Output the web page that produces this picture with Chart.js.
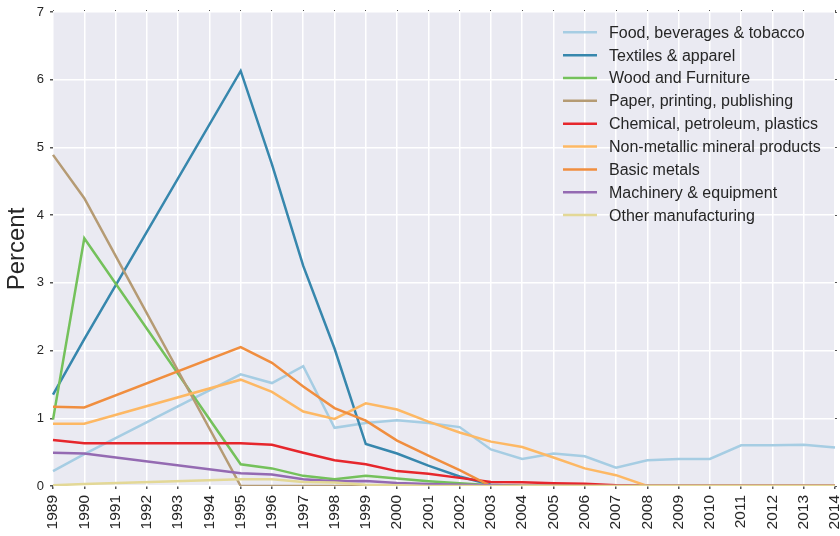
<!DOCTYPE html>
<html>
<head>
<meta charset="utf-8">
<script src="https://cdn.jsdelivr.net/npm/chart.js@4"></script>
<style>
  html, body { margin: 0; padding: 0; background: #ffffff; }
  #wrap { width: 840px; height: 536px; position: relative; }
</style>
</head>
<body>
<div id="wrap"><canvas id="c" width="840" height="536"></canvas></div>
<script>
// ---- Data ----
const years = ["1989","1990","1991","1992","1993","1994","1995","1996","1997","1998","1999","2000","2001",
               "2002","2003","2004","2005","2006","2007","2008","2009","2010","2011","2012","2013","2014"];
const yTicks = [0, 1, 2, 3, 4, 5, 6, 7];

const seriesNames = [
  "Food, beverages & tobacco",
  "Textiles & apparel",
  "Wood and Furniture",
  "Paper, printing, publishing",
  "Chemical, petroleum, plastics",
  "Non-metallic mineral products",
  "Basic metals",
  "Machinery & equipment",
  "Other manufacturing"
];
const seriesColors = ["#a6cde3", "#3787ad", "#74c15b", "#b59b74", "#e6262c", "#fdb864", "#f08e3f", "#946ab2", "#e3d896"];

// 1991-1994 are missing in the source (lines span the gap)
const food      = [0.22, 0.47, null, null, null, null, 1.65, 1.52, 1.77, 0.86, 0.93, 0.97, 0.93, 0.87, 0.54, 0.40, 0.48, 0.44, 0.27, 0.38, 0.40, 0.40, 0.60, 0.60, 0.61, 0.57];
const textiles  = [1.35, 2.17, null, null, null, null, 6.13, 4.75, 3.25, 2.03, 0.62, 0.48, 0.30, 0.14, 0.02, 0, 0, 0, 0, 0, 0, 0, 0, 0, 0, 0];
const wood      = [0.98, 3.66, null, null, null, null, 0.32, 0.26, 0.15, 0.10, 0.15, 0.11, 0.07, 0.04, 0.01, 0, 0, 0, 0, 0, 0, 0, 0, 0, 0, 0];
const paper     = [4.89, 4.25, null, null, null, null, 0, 0, 0, 0, 0, 0, 0, 0, 0, 0, 0, 0, 0, 0, 0, 0, 0, 0, 0, 0];
const chemical  = [0.68, 0.63, null, null, null, null, 0.63, 0.61, 0.49, 0.38, 0.32, 0.22, 0.18, 0.12, 0.06, 0.055, 0.04, 0.035, 0.01, 0, 0, 0, 0, 0, 0, 0];
const nonmetal  = [0.92, 0.92, null, null, null, null, 1.57, 1.39, 1.10, 0.99, 1.22, 1.13, 0.95, 0.79, 0.655, 0.575, 0.42, 0.26, 0.16, 0, 0, 0, 0, 0, 0, 0];
const basic     = [1.17, 1.16, null, null, null, null, 2.05, 1.82, 1.47, 1.15, 0.965, 0.67, 0.45, 0.235, 0, 0, 0, 0, 0, 0, 0, 0, 0, 0, 0, 0];
const machinery = [0.49, 0.48, null, null, null, null, 0.19, 0.17, 0.10, 0.07, 0.075, 0.045, 0.03, 0.02, 0.01, 0, 0, 0, 0, 0, 0, 0, 0, 0, 0, 0];
const other     = [0.01, 0.03, null, null, null, null, 0.10, 0.10, 0.06, 0.05, 0.02, 0.01, 0, 0, 0, 0, 0, 0, 0, 0, 0, 0, 0, 0, 0, 0];

const seriesValues = [food, textiles, wood, paper, chemical, nonmetal, basic, machinery, other];

// ---- Styling ----
const FONT = "'Liberation Sans', Arial, sans-serif";
const TEXT = "#262626";
const TICKMARK = "#555555";

const datasets = seriesNames.map((name, i) => ({
  label: name,
  data: seriesValues[i],
  borderColor: seriesColors[i],
  backgroundColor: seriesColors[i],
  borderWidth: 2.5,
  pointRadius: 0,
  pointHoverRadius: 0,
  tension: 0,
  spanGaps: true,
  fill: false,
  order: seriesNames.length - 1 - i   // later series on top (like matplotlib)
}));

const plotBg = {
  id: 'plotBg',
  beforeDraw(chart) {
    const { ctx, chartArea: a } = chart;
    ctx.save();
    ctx.fillStyle = '#eaeaf2';
    ctx.fillRect(a.left, a.top, a.right - a.left, a.bottom - a.top);
    ctx.restore();
  }
};

const insideLegend = {
  id: 'insideLegend',
  afterDraw(chart) {
    const { ctx, chartArea: a } = chart;
    const x0 = a.right - 272, x1 = a.right - 238, tx = a.right - 226;
    const y0 = a.top + 20.3, dy = 22.85;
    ctx.save();
    ctx.font = "16px " + FONT;
    ctx.textBaseline = 'middle';
    ctx.textAlign = 'left';
    chart.data.datasets.forEach((ds, i) => {
      const y = y0 + i * dy;
      ctx.strokeStyle = ds.borderColor;
      ctx.lineWidth = 2.5;
      ctx.beginPath();
      ctx.moveTo(x0, y);
      ctx.lineTo(x1, y);
      ctx.stroke();
      ctx.fillStyle = TEXT;
      ctx.fillText(ds.label, tx, y + 1);
    });
    ctx.restore();
  }
};

new Chart(document.getElementById('c'), {
  type: 'line',
  data: { labels: years, datasets },
  options: {
    responsive: false,
    animation: false,
    devicePixelRatio: 1,
    layout: { padding: { left: 0, right: 5, top: 12, bottom: 0 } },
    plugins: {
      legend: { display: false },
      tooltip: { enabled: false }
    },
    scales: {
      x: {
        type: 'category',
        offset: false,
        border: { display: false },
        grid: { color: '#ffffff', lineWidth: 1.5, drawTicks: true, tickLength: 3, tickColor: TICKMARK },
        ticks: {
          autoSkip: false, minRotation: 90, maxRotation: 90, padding: 6,
          color: TEXT, font: { family: FONT, size: 15.5 }
        },
        afterFit(s) { s.height = 50; s.paddingLeft = 0; s.paddingRight = 0; }
      },
      xTop: {
        type: 'category', position: 'top', labels: years, offset: false,
        border: { display: false },
        grid: { drawOnChartArea: false, drawTicks: true, tickLength: 2, tickColor: TICKMARK },
        ticks: { display: false },
        afterFit(s) { s.height = 0; s.paddingLeft = 0; s.paddingRight = 0; }
      },
      y: {
        min: 0, max: 7,
        afterBuildTicks(s) { s.ticks = yTicks.map(v => ({ value: v })); },
        border: { display: false },
        grid: { color: '#ffffff', lineWidth: 1.5, drawTicks: true, tickLength: 3, tickColor: TICKMARK },
        ticks: { padding: 6, color: TEXT, font: { family: FONT, size: 13 } },
        title: { display: true, text: 'Percent', color: TEXT, font: { family: FONT, size: 24 }, padding: { top: 3, bottom: 0 } },
        afterFit(s) { s.width = 53; s.paddingTop = 0; s.paddingBottom = 0; }
      },
      yRight: {
        position: 'right', min: 0, max: 7,
        afterBuildTicks(s) { s.ticks = yTicks.map(v => ({ value: v })); },
        border: { display: false },
        grid: { drawOnChartArea: false, drawTicks: true, tickLength: 2, tickColor: TICKMARK },
        ticks: { display: false },
        afterFit(s) { s.width = 0; s.paddingTop = 0; s.paddingBottom = 0; }
      }
    }
  },
  plugins: [plotBg, insideLegend]
});
</script>
</body>
</html>
